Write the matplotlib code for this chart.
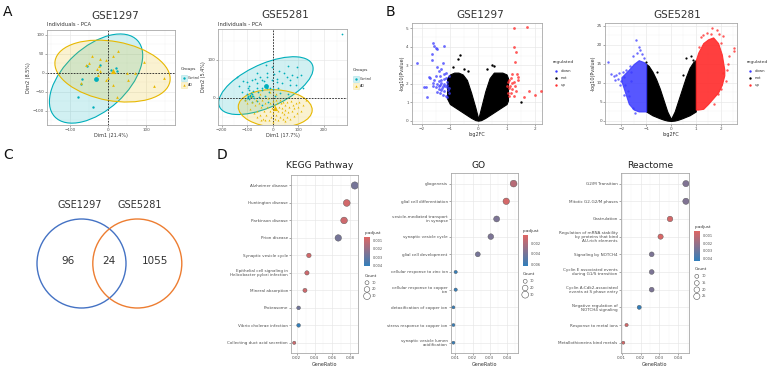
import numpy as np
import matplotlib.pyplot as plt
from matplotlib.patches import Ellipse, Circle, Rectangle
from matplotlib.colors import LinearSegmentedColormap
from matplotlib.ticker import AutoMinorLocator

# ---------------- data ----------------
# A: PCA GSE1297
ctrl1_x = [-69, -72, -78, -40, -55, -21, 8, 25, 21]
ctrl1_y = [-17, -28, -64, -90, 18, 21, 8, 5, 14]
ad1_x = [27, -41, -21, -5, 13, -49, -23, -58, 49, 71, 53, 95, 121, 147, -71, 12, 23, -4, 0, -30, -25, -20]
ad1_y = [59, 45, 37, 34, 45, 27, 18, 21, -1, 1, -18, 30, -34, -14, -27, -32, -64, -18, -12, 10, -5, 5]

# A: PCA GSE5281
ctrl2_x = [-26, -4, 59, 94, 26, -24, -50, -82, -115, -102, -69, -4, 16, 55, 75, 44, 7, -34, -63, -92,
           -95, -92, -82, -89, -95, -76, -56, -43, -24, -10, 3, 20, 35, 68, 92, 120, -26, -52, -73, -102,
           271, -21, 18, -76, -85, -43, 29, 68, 97, -63, -98, -90, -86, -80, -93, -100, -40, -15, 10, -60, -30,
           -110, -80, -60, -40, -120, -130, -20, 60, 110, -140]
ctrl2_y = [87, 82, 84, 82, 72, 65, 56, 47, 45, 42, 51, 47, 49, 54, 60, 65, 63, 45, 38, 31,
           25, 20, 9, 4, 3, 4, 16, 27, 25, 27, 22, 27, 38, 34, 34, 27, 34, 3, 0, 9,
           168, 56, 42, 19, 13, 47, 12, 47, 54, 66, 6, 8, 2, 6, -2, 0, 20, 15, 5, 25, 5,
           -5, -12, -8, -18, 15, 30, -10, 10, 60, 55]
ad2_x = [-100, -90, -80, -75, -70, -65, -60, -55, -50, -45, -40, -38, -35, -30, -25, -22, -20, -15, -12, -10,
         -5, -3, 0, 3, 5, 8, 10, 12, 15, 18, 20, 22, 25, 28, 30, 33, 35, 38, 40, 42,
         45, 48, 50, 55, 58, 60, 65, 68, 70, 75, 78, 82, 85, 90, 95, 100, 105, 110, 120, 130,
         -85, -50, -10, 15, -60, -30, 0, -45, 50, -110]
ad2_y = [-15, -30, -10, -40, -20, -5, -35, -15, -45, -25, -5, -55, -35, -15, -45, -25, 0, -60, -35, -15,
         -50, -28, -8, -40, -20, -55, -30, -5, -45, -15, -35, -60, -25, -5, -50, -15, -38, -28, -55, -10,
         -42, -20, -32, -50, -12, -38, -25, -55, -8, -35, -20, -48, -28, -15, -40, -25, -10, -35, -20, -5,
         5, 10, 15, 10, -50, -60, -65, -60, -62, -5]

# B: volcano GSE1297
v1_down_x = [-1.6, -1.55, -1.5, -1.45, -1.2, -1.62, -1.65, -2.15, -1.75, -1.9, -1.85, -1.8, -1.45, -1.4, -1.3,
             -1.25, -1.5, -1.35, -1.55, -1.3, -1.45, -1.35, -1.25, -1.2, -1.15, -1.1, -1.5, -1.4, -1.3, -1.2,
             -1.1, -1.05, -1.25, -1.35, -1.15, -1.45, -1.6, -1.1, -1.05, -1.2, -1.6, -1.7, -1.4, -1.28,
             -1.12, -1.18, -1.32, -1.08, -1.22, -1.38, -1.02, -1.15]
v1_down_y = [4.2, 4.05, 3.95, 3.9, 4.05, 3.6, 3.3, 3.1, 2.35, 1.8, 1.8, 1.3, 2.9, 2.7, 2.8,
             3.1, 2.4, 2.4, 2.2, 2.2, 2.0, 1.95, 1.9, 2.0, 2.3, 2.1, 1.8, 1.7, 1.65, 1.6,
             1.8, 1.5, 1.4, 1.5, 1.35, 1.55, 1.9, 1.3, 2.4, 2.5, 2.05, 2.3, 2.15, 1.75,
             1.95, 1.85, 2.05, 1.65, 2.25, 1.85, 1.75, 2.6]
v1_up_x = [1.25, 1.72, 1.25, 1.35, 1.3, 1.2, 1.38, 1.42, 1.15, 1.1, 1.05, 1.25, 1.12, 1.08, 1.3,
           1.2, 1.05, 1.15, 1.25, 1.1, 1.35, 1.6, 1.8, 2.0, 2.2, 1.2, 1.02, 1.4]
v1_up_y = [5.0, 5.05, 4.0, 3.7, 3.15, 2.5, 2.5, 2.35, 2.3, 2.2, 2.1, 2.1, 1.9, 1.75, 1.9,
           1.7, 1.5, 1.5, 1.35, 1.35, 1.6, 1.3, 1.6, 1.4, 1.6, 2.05, 1.9, 2.2]
v1_not_x = [-0.65, -0.7, -0.9, -0.5, 0.5, 0.55, 0.3, 1.5, -0.35]
v1_not_y = [3.55, 3.35, 2.9, 2.8, 3.0, 2.95, 2.8, 1.0, 2.7]
# outline of the dense "not" cloud
v1_cloud_x = [-1.1, -1.0, -0.85, -0.7, -0.55, -0.4, -0.25, -0.1, 0.0, 0.1, 0.25, 0.4, 0.55, 0.7, 0.85, 1.0, 1.05]
v1_cloud_hi = [2.3, 2.5, 2.6, 2.6, 2.5, 2.2, 1.5, 0.7, 0.1, 0.7, 1.6, 2.3, 2.6, 2.6, 2.6, 2.5, 2.3]
v1_cloud_lo = [1.2, 0.9, 0.75, 0.6, 0.45, 0.3, 0.15, 0.03, 0.0, 0.03, 0.15, 0.3, 0.45, 0.6, 0.75, 0.9, 1.1]

# B: volcano GSE5281
v2_cloud_x = [-1.0, -0.9, -0.75, -0.6, -0.45, -0.3, -0.15, 0.0, 0.15, 0.3, 0.45, 0.6, 0.75, 0.9, 1.0]
v2_cloud_hi = [15, 14.5, 13, 11, 8.5, 5.5, 2.5, 0.5, 2.5, 5.5, 8.5, 11.5, 14, 15.5, 16]
v2_cloud_lo = [2.5, 2.1, 1.5, 1.1, 0.7, 0.35, 0.1, 0.0, 0.1, 0.35, 0.7, 1.1, 1.5, 2.1, 2.5]
v2_down_cloud_x = [-2.0, -1.85, -1.7, -1.5, -1.3, -1.1, -1.0]
v2_down_cloud_hi = [11.5, 12.5, 13.5, 15, 16, 15.5, 15]
v2_down_cloud_lo = [10.5, 7.5, 4.5, 3, 2.5, 2.5, 2.5]
v2_up_cloud_x = [1.0, 1.1, 1.3, 1.5, 1.7, 1.9, 2.05, 2.15]
v2_up_cloud_hi = [16, 18, 20.5, 21.5, 22, 20.5, 17.5, 13.5]
v2_up_cloud_lo = [3, 3, 3.2, 4.5, 6, 7.5, 9.5, 12]
v2_down_x = [-2.55, -1.4, -1.3, -1.25, -1.35, -1.15, -1.55, -2.2, -2.0, -1.9, -1.8, -1.6, -1.55, -1.45,
             -1.1, -2.1, -2.3, -1.85, -1.7, -1.6, -2.4, -2.15, -1.95, -1.75, -2.05, -2.25, -1.9, -1.65]
v2_down_y = [15.5, 21.2, 19.5, 18.7, 17.8, 17.5, 17.2, 12, 10.5, 11.5, 13.5, 13, 3.5, 2.2,
             16.5, 12.5, 11.8, 9.5, 6.5, 10.5, 12.3, 11, 12.8, 8, 9.5, 10.8, 6.8, 14.5]
v2_up_x = [1.65, 1.85, 2.55, 2.55, 2.1, 1.45, 1.3, 2.0, 2.3, 2.2, 1.9, 1.75, 1.2, 1.95, 2.35, 2.1,
           2.25, 1.6, 2.0, 1.15]
v2_up_y = [24.5, 24, 19.2, 18.3, 22.3, 23.2, 22.5, 20.5, 15, 10.5, 7, 4.5, 22, 23, 17, 12.5,
           13.5, 22.8, 8.5, 19.5]
v2_not_x = [-1.0, -0.55, 0.6, 0.8, 0.9, 0.5]
v2_not_y = [15.5, 13, 16.5, 17, 16, 12]

# C: Venn
venn_sets = ['GSE1297', 'GSE5281']
venn_counts = [96, 24, 1055]

# D: enrichment
kegg_terms = ['Alzheimer disease', 'Huntington disease', 'Parkinson disease', 'Prion disease',
              'Synaptic vesicle cycle', 'Epithelial cell signaling in\nHelicobacter pylori infection',
              'Mineral absorption', 'Proteasome', 'Vibrio cholerae infection', 'Collecting duct acid secretion']
kegg_ratio = [0.085, 0.076, 0.073, 0.0665, 0.0337, 0.0315, 0.0293, 0.0222, 0.0222, 0.0173]
kegg_count = [34, 30, 29, 27, 13, 12, 11, 9, 9, 7]
kegg_padj = [0.0027, 0.0008, 0.0009, 0.0027, 0.0008, 0.0009, 0.0009, 0.0028, 0.0041, 0.0009]

go_terms = ['gliogenesis', 'glial cell differentiation', 'vesicle-mediated transport\nin synapse',
            'synaptic vesicle cycle', 'glial cell development', 'cellular response to zinc ion',
            'cellular response to copper\nion', 'detoxification of copper ion', 'stress response to copper ion',
            'synaptic vesicle lumen\nacidification']
go_ratio = [0.0439, 0.0396, 0.034, 0.0306, 0.023, 0.0101, 0.0101, 0.0088, 0.0088, 0.0088]
go_count = [30, 27, 23, 21, 16, 7, 7, 6, 6, 6]
go_padj = [0.0018, 0.0008, 0.0038, 0.0038, 0.0040, 0.0062, 0.0062, 0.0062, 0.0062, 0.0062]

react_terms = ['G2/M Transition', 'Mitotic G2-G2/M phases', 'Gastrulation',
               'Regulation of mRNA stability\nby proteins that bind\nAU-rich elements', 'Signaling by NOTCH4',
               'Cyclin E associated events\nduring G1/S transition', 'Cyclin A:Cdk2-associated\nevents at S phase entry',
               'Negative regulation of\nNOTCH4 signaling', 'Response to metal ions', 'Metallothioneins bind metals']
react_ratio = [0.044, 0.044, 0.0356, 0.0306, 0.0259, 0.0259, 0.0259, 0.0193, 0.0126, 0.0109]
react_count = [25, 25, 20, 18, 15, 15, 15, 11, 7, 6]
react_padj = [0.0025, 0.0025, 0.0006, 0.0005, 0.0026, 0.0026, 0.0026, 0.0043, 0.0006, 0.0005]

# ---------------- figure ----------------
W, H = 767, 368
fig = plt.figure(figsize=(W / 100, H / 100), dpi=100)

# overlay in pixel coordinates for labels / legends
ov = fig.add_axes([0, 0, 1, 1])
ov.set_xlim(0, W)
ov.set_ylim(H, 0)
ov.axis('off')


def px_axes(l, t, r, b):
    return fig.add_axes([l / W, 1 - b / H, (r - l) / W, (b - t) / H])


def gg_style(ax):
    for sp in ax.spines.values():
        sp.set_color('#a8a8a8')
        sp.set_linewidth(0.6)
    ax.tick_params(labelsize=3, length=1.2, width=0.4, color='#666666', labelcolor='#4d4d4d', pad=1)
    ax.xaxis.set_minor_locator(AutoMinorLocator(2))
    ax.yaxis.set_minor_locator(AutoMinorLocator(2))
    ax.tick_params(which='minor', length=0)
    ax.grid(True, which='major', color='#e6e6e6', lw=0.45)
    ax.grid(True, which='minor', color='#f2f2f2', lw=0.3)
    ax.set_axisbelow(True)


def conf_ellipse(ax, x, y, color, level=0.95):
    x = np.asarray(x, float)
    y = np.asarray(y, float)
    m = len(x) - 1
    f = (m / 2) * ((1 - level) ** (-2 / m) - 1)   # qf(level, 2, m)
    r = np.sqrt(2 * f)
    vals, vecs = np.linalg.eigh(np.cov(x, y))
    ang = np.degrees(np.arctan2(vecs[1, 1], vecs[0, 1]))
    w, h = 2 * r * np.sqrt(vals[1]), 2 * r * np.sqrt(vals[0])
    ax.add_patch(Ellipse((x.mean(), y.mean()), w, h, angle=ang, facecolor=color, alpha=0.18, edgecolor='none'))
    ax.add_patch(Ellipse((x.mean(), y.mean()), w, h, angle=ang, fill=False, edgecolor=color, lw=0.8))


CYAN, GOLD = '#00AFBB', '#E7B800'


def pca_panel(box, cx, cy, ax_, ay_, xlim, ylim, xticks, yticks, xl, yl, ps):
    ax = px_axes(*box)
    gg_style(ax)
    conf_ellipse(ax, cx, cy, CYAN)
    conf_ellipse(ax, ax_, ay_, GOLD)
    ax.scatter(cx, cy, s=ps, color=CYAN, marker='o', lw=0, zorder=3)
    ax.scatter(ax_, ay_, s=ps * 1.3, color=GOLD, marker='^', lw=0, zorder=3)
    ax.scatter([np.mean(cx)], [np.mean(cy)], s=12, color=CYAN, marker='o', lw=0, zorder=4)
    ax.scatter([np.mean(ax_)], [np.mean(ay_)], s=14, color=GOLD, marker='^', lw=0, zorder=4)
    ax.axhline(0, ls='--', color='#222222', lw=0.6, dashes=(2, 1.5))
    ax.axvline(0, ls='--', color='#222222', lw=0.6, dashes=(2, 1.5))
    ax.set_xlim(*xlim)
    ax.set_ylim(*ylim)
    ax.set_xticks(xticks)
    ax.set_yticks(yticks)
    ax.set_xlabel(xl, fontsize=3.5, labelpad=1, color='#333333')
    ax.set_ylabel(yl, fontsize=3.5, labelpad=1, color='#333333')
    return ax


pca_panel((47, 30, 175, 125), ctrl1_x, ctrl1_y, ad1_x, ad1_y, (-160, 176), (-137, 113),
          [-100, 0, 100], [-100, -50, 0, 50, 100], 'Dim1 (21.4%)', 'Dim2 (8.5%)', 3)
pca_panel((218, 29, 347, 125), ctrl2_x, ctrl2_y, ad2_x, ad2_y, (-214, 291), (-72, 182),
          [-200, -100, 0, 100, 200], [0, 100], 'Dim1 (17.7%)', 'Dim2 (5.4%)', 1.6)


def pca_legend(x, y):
    ov.text(x, y, 'Groups', fontsize=3.2, va='center', color='#333333')
    for i, (c, mk, lab) in enumerate([(CYAN, 'o', 'Control'), (GOLD, '^', 'AD')]):
        yy = y + 9 + 7 * i
        ov.add_patch(Rectangle((x, yy - 2.8), 5.6, 5.6, facecolor=c, alpha=0.18, edgecolor=c, lw=0.6))
        ov.scatter([x + 2.8], [yy], s=3, marker=mk, color=c, lw=0)
        ov.text(x + 7, yy, lab, fontsize=2.4, va='center', color='#333333')


pca_legend(181, 69)
pca_legend(353, 70)


def volcano_panel(box, xlim, ylim, yticks):
    ax = px_axes(*box)
    gg_style(ax)
    ax.set_xlim(*xlim)
    ax.set_ylim(*ylim)
    ax.set_xticks([-2, -1, 0, 1, 2])
    ax.set_yticks(yticks)
    ax.set_xlabel('log2FC', fontsize=3.5, labelpad=1, color='#333333')
    ax.set_ylabel('-log10(Pvalue)', fontsize=3.5, labelpad=1, color='#333333')
    return ax


vb1 = volcano_panel((411.7, 22.7, 541.7, 124), (-2.35, 2.24), (-0.18, 5.3), [0, 1, 2, 3, 4, 5])
vb1.fill_between(v1_cloud_x, v1_cloud_lo, v1_cloud_hi, color='black', lw=0.8, edgecolor='black', zorder=2)
vb1.scatter(v1_not_x, v1_not_y, s=3, color='black', lw=0, zorder=3)
vb1.scatter(v1_down_x, v1_down_y, s=4, color='#3a3aff', alpha=0.75, lw=0, zorder=3)
vb1.scatter(v1_up_x, v1_up_y, s=4, color='#ff3030', alpha=0.8, lw=0, zorder=3)

vb2 = volcano_panel((605, 23.3, 736.7, 124), (-2.66, 2.65), (-0.8, 25.7), [0, 5, 10, 15, 20, 25])
vb2.fill_between(v2_cloud_x, v2_cloud_lo, v2_cloud_hi, color='black', lw=0.8, edgecolor='black', zorder=2)
vb2.fill_between(v2_down_cloud_x, v2_down_cloud_lo, v2_down_cloud_hi, color='#3a3aff', alpha=0.85, lw=0.8,
                 edgecolor='#3a3aff', zorder=2)
vb2.fill_between(v2_up_cloud_x, v2_up_cloud_lo, v2_up_cloud_hi, color='#ff2a2a', alpha=0.9, lw=0.8,
                 edgecolor='#ff2a2a', zorder=2)
vb2.scatter(v2_not_x, v2_not_y, s=2.5, color='black', lw=0, zorder=3)
vb2.scatter(v2_down_x, v2_down_y, s=3, color='#3a3aff', alpha=0.75, lw=0, zorder=3)
vb2.scatter(v2_up_x, v2_up_y, s=3, color='#ff3030', alpha=0.8, lw=0, zorder=3)


def volcano_legend(x, y):
    ov.text(x, y, 'regulated', fontsize=3.2, va='center', color='#333333')
    for i, (c, lab) in enumerate([('#3a3aff', 'down'), ('black', 'not'), ('#ff3030', 'up')]):
        yy = y + 9 + 7 * i
        ov.scatter([x + 3], [yy], s=3, color=c, lw=0)
        ov.text(x + 8, yy, lab, fontsize=2.8, va='center', color='#333333')


volcano_legend(553, 62)
volcano_legend(747, 62)

# C: Venn
ov.add_patch(Circle((81.5, 263.5), 44.5, fill=False, edgecolor='#4472C4', lw=1.0))
ov.add_patch(Circle((137.3, 263.5), 44.5, fill=False, edgecolor='#ED7D31', lw=1.0))
ov.text(80, 205, venn_sets[0], fontsize=7, ha='center', va='center', color='#333333')
ov.text(140, 205, venn_sets[1], fontsize=7, ha='center', va='center', color='#333333')
for xx, n in zip([68, 109, 155], venn_counts):
    ov.text(xx, 261, str(n), fontsize=7.5, ha='center', va='center', color='#333333')

# D: dot plots
cmap = LinearSegmentedColormap.from_list('padj', ['#e06663', '#327eba'])
SZ = 0.8


def dot_panel(box, terms, ratio, count, padj, vlim, xticks, xlim, cbox, cticks, leg_x, leg_y, leg_counts):
    ax = px_axes(*box)
    gg_style(ax)
    ax.yaxis.set_minor_locator(plt.NullLocator())
    yy = np.arange(len(terms))[::-1] + 1
    sc = ax.scatter(ratio, yy, s=np.array(count) * SZ, c=padj, cmap=cmap, vmin=vlim[0], vmax=vlim[1],
                    edgecolors='#555555', linewidths=0.3, zorder=3)
    ax.set_yticks(yy)
    ax.set_yticklabels(terms, fontsize=3, color='#4d4d4d', linespacing=1.0)
    ax.set_ylim(0.4, len(terms) + 0.6)
    ax.set_xlim(*xlim)
    ax.set_xticks(xticks)
    ax.set_xticklabels(['%g' % t for t in xticks])
    ax.set_xlabel('GeneRatio', fontsize=3.5, labelpad=1, color='#333333')
    cax = px_axes(*cbox)
    cb = fig.colorbar(sc, cax=cax, ticks=cticks)
    cb.ax.invert_yaxis()
    cb.outline.set_visible(False)
    cb.ax.tick_params(length=1, width=0.4, color='white', labelsize=2.5, labelcolor='#4d4d4d', pad=1)
    cb.ax.set_yticklabels(['%.3f' % t for t in cticks])
    ov.text(cbox[0], cbox[1] - 4, 'p.adjust', fontsize=3, va='center', color='#333333')
    ov.text(leg_x, leg_y, 'Count', fontsize=3, va='center', color='#333333')
    for i, c in enumerate(leg_counts):
        y = leg_y + 7 + 6.7 * i
        ov.scatter([leg_x + 2.5], [y], s=c * SZ, facecolor='none', edgecolor='#555555', lw=0.4)
        ov.text(leg_x + 7, y, str(c), fontsize=2.5, va='center', color='#4d4d4d')
    return ax


dot_panel((291, 175, 358.3, 353.3), kegg_terms, kegg_ratio, kegg_count, kegg_padj, (0.0005, 0.0041),
          [0.02, 0.04, 0.06, 0.08], (0.0137, 0.0889), (364.3, 236.7, 370, 266),
          [0.001, 0.002, 0.003, 0.004], 364.5, 275.7, [10, 20, 30])
dot_panel((450.7, 173, 517.7, 353.3), go_terms, go_ratio, go_count, go_padj, (0.0004, 0.0063),
          [0.01, 0.02, 0.03, 0.04], (0.0072, 0.0463), (522.7, 235, 528.3, 265.7),
          [0.002, 0.004, 0.006], 522.7, 274.3, [10, 20, 30])
dot_panel((620.7, 173, 689.3, 353.3), react_terms, react_ratio, react_count, react_padj, (0.0003, 0.0043),
          [0.01, 0.02, 0.03, 0.04], (0.0095, 0.0458), (694.3, 230.7, 700, 260.7),
          [0.001, 0.002, 0.003, 0.004], 694.3, 269.3, [10, 15, 20, 25])

# titles and panel letters
for x, y, s in [(115, 16, 'GSE1297'), (285, 15, 'GSE5281'), (480, 15, 'GSE1297'), (677, 15, 'GSE5281')]:
    ov.text(x, y, s, fontsize=7.5, ha='center', va='center', color='#333333')
ov.text(47, 24.5, 'Individuals - PCA', fontsize=3.8, va='center', color='#333333')
ov.text(218, 24.5, 'Individuals - PCA', fontsize=3.8, va='center', color='#333333')
for x, s in [(320, 'KEGG Pathway'), (479, 'GO'), (650, 'Reactome')]:
    ov.text(x, 165, s, fontsize=6.6, ha='center', va='center', color='#222222')
for x, y, s in [(8, 12, 'A'), (390, 12, 'B'), (8, 155, 'C'), (222, 155, 'D')]:
    ov.text(x, y, s, fontsize=10, ha='center', va='center', color='#111111')

fig.savefig('out.png', dpi=100)
